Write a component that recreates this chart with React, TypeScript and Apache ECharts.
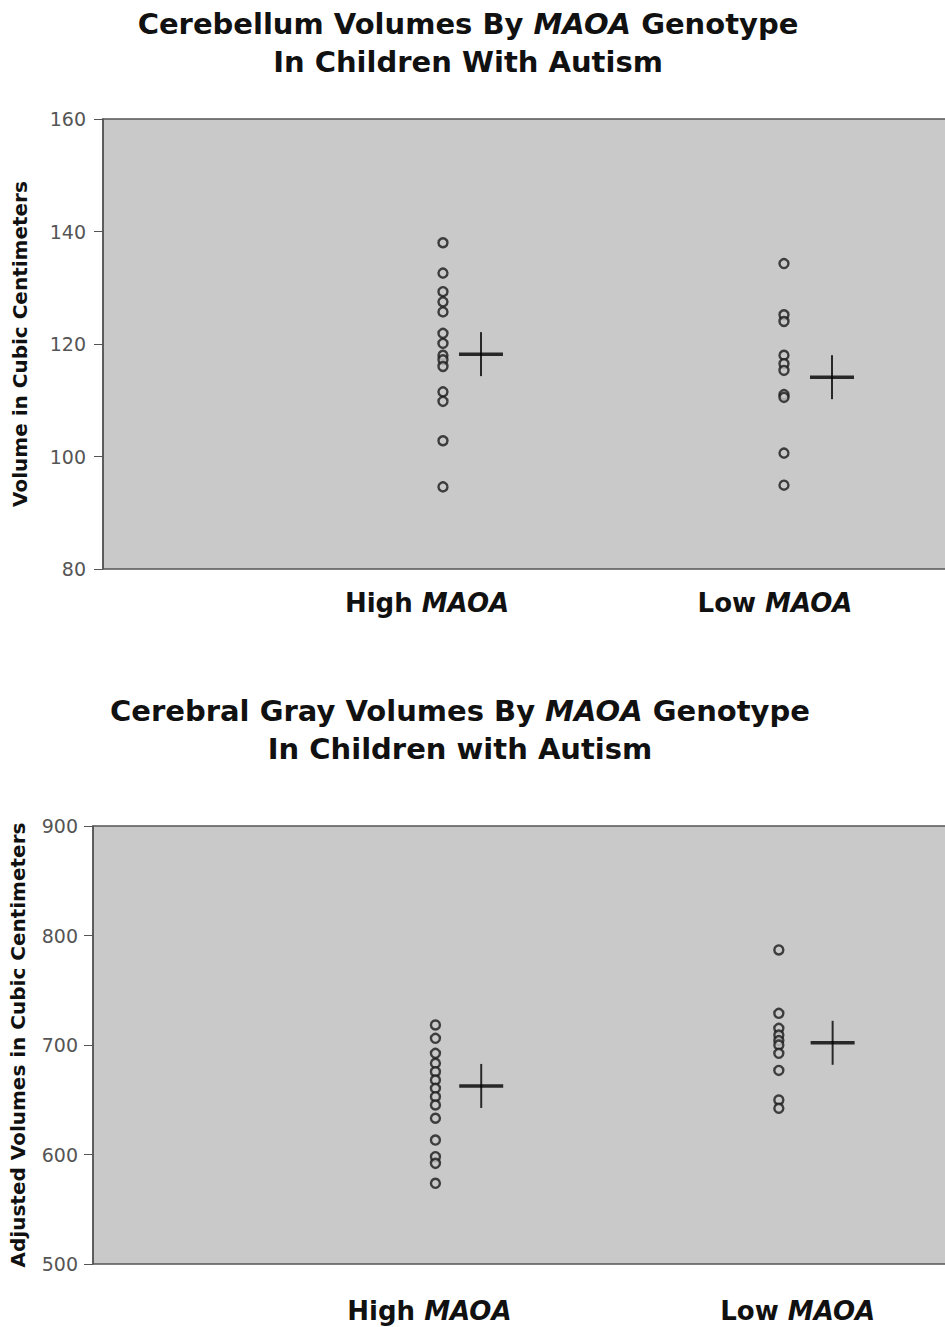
import React, { useEffect, useRef } from "react";
import * as echarts from "echarts";

// ---- Data ----
const groupNames = ["High", "Low"];
const geneName = "MAOA";

// Cerebellum volumes (cc)
const cerebHigh = [138.0, 132.6, 129.3, 127.5, 125.7, 121.9, 120.1, 118.0, 117.2, 116.0, 111.5, 109.8, 102.8, 94.6];
const cerebLow = [134.3, 125.2, 124.0, 118.0, 116.5, 115.3, 111.0, 110.5, 100.6, 94.9];
const cerebMeans = [118.2, 114.1];
const cerebTicks = [80, 100, 120, 140, 160];

// Cerebral gray volumes (cc, adjusted)
const grayHigh = [718.3, 706.1, 692.4, 683.3, 675.6, 668.0, 660.4, 652.8, 645.2, 633.1, 613.2, 598.0, 591.9, 573.7];
const grayLow = [786.8, 728.9, 715.2, 709.1, 704.0, 700.0, 692.4, 676.8, 649.8, 642.2];
const grayMeans = [662.6, 702.0];
const grayTicks = [500, 600, 700, 800, 900];

// ---- Layout (x positions in a 0..100 horizontal space) ----
const topPos = { dots: [39.44, 79.0], means: [43.85, 84.57], labels: [37.59, 77.96] };
const botPos = { dots: [39.27, 78.65], means: [44.52, 84.82], labels: [38.58, 80.82] };

const FONT = "DejaVu Sans";
const PLOT_BG = "#c9c9c9";

export default function App() {
  const ref = useRef<HTMLDivElement>(null);

  useEffect(() => {
    if (!ref.current) return;
    const chart = echarts.init(ref.current, null, { renderer: "svg" });

    const dotStyle = { color: PLOT_BG, borderColor: "#1a1a1a", borderWidth: 2.4 };
    const titleStyle = {
      fontFamily: FONT,
      fontSize: 29,
      fontWeight: "bold",
      color: "#111",
      lineHeight: 38,
      rich: {
        n: { fontFamily: FONT, fontSize: 29, fontWeight: "bold", color: "#111", lineHeight: 38 },
        i: { fontFamily: FONT, fontSize: 29, fontWeight: "bold", fontStyle: "italic", color: "#111", lineHeight: 38 },
      },
    };

    const labelFormatter = (pos: number[]) => (v: number) => {
      const idx = pos.findIndex((p) => Math.abs(p - v) < 1e-6);
      if (idx < 0) return "";
      return `{n|${groupNames[idx]} }{i|${geneName}}`;
    };
    const xLabelRich = {
      n: { fontFamily: FONT, fontSize: 26, fontWeight: "bold", color: "#111" },
      i: { fontFamily: FONT, fontSize: 26, fontWeight: "bold", fontStyle: "italic", color: "#111" },
    };

    const yAxisCommon = (min: number, max: number, interval: number, name: string, gap: number, margin: number) => ({
      type: "value",
      min,
      max,
      interval,
      name,
      nameLocation: "middle",
      nameRotate: 90,
      nameGap: gap,
      nameTextStyle: { fontFamily: FONT, fontSize: 20, fontWeight: "bold", color: "#111" },
      axisLine: { show: true, lineStyle: { color: "#555", width: 1.5 } },
      axisTick: { show: true, length: 9, lineStyle: { color: "#555", width: 1 } },
      axisLabel: { fontFamily: FONT, fontSize: 19, color: "#555", margin: margin },
      splitLine: { show: false },
    });

    const xAxisCommon = (grid: number, pos: number[], margin: number) => ({
      type: "value",
      gridIndex: grid,
      min: 0,
      max: 100,
      axisLine: { show: false },
      axisTick: { show: false },
      splitLine: { show: false },
      axisLabel: {
        show: true,
        customValues: pos,
        formatter: labelFormatter(pos),
        margin,
        rich: xLabelRich,
      },
    });

    const crossSeries = (xi: number, means: number[], pos: number[]) => [
      {
        type: "scatter",
        xAxisIndex: xi,
        yAxisIndex: xi,
        symbol: "rect",
        symbolSize: [44, 3.5],
        itemStyle: { color: "#000" },
        data: means.map((m, k) => [pos[k], m]),
        z: 5,
      },
      {
        type: "scatter",
        xAxisIndex: xi,
        yAxisIndex: xi,
        symbol: "rect",
        symbolSize: [2, 44],
        itemStyle: { color: "#000" },
        data: means.map((m, k) => [pos[k], m]),
        z: 5,
      },
    ];

    const dotSeries = (xi: number, vals: number[], x: number) => ({
      type: "scatter",
      xAxisIndex: xi,
      yAxisIndex: xi,
      symbol: "circle",
      symbolSize: 9,
      itemStyle: dotStyle,
      data: vals.map((v) => [x, v]),
      z: 4,
    });

    chart.setOption({
      animation: false,
      backgroundColor: "#ffffff",
      title: [
        {
          text: `{n|Cerebellum Volumes By }{i|${geneName}}{n| Genotype}\n{n|In Children With Autism}`,
          left: 468,
          top: 5,
          textAlign: "center",
          padding: 0,
          textStyle: titleStyle,
        },
        {
          text: `{n|Cerebral Gray Volumes By }{i|${geneName}}{n| Genotype}\n{n|In Children with Autism}`,
          left: 460,
          top: 692,
          textAlign: "center",
          padding: 0,
          textStyle: titleStyle,
        },
      ],
      grid: [
        {
          left: 103,
          top: 119,
          right: 0,
          height: 450,
          show: true,
          backgroundColor: PLOT_BG,
          borderColor: "#555",
          borderWidth: 1.5,
        },
        {
          left: 89,
          top: 826,
          right: 0,
          height: 438,
          show: true,
          backgroundColor: PLOT_BG,
          borderColor: "#555",
          borderWidth: 1.5,
        },
      ],
      xAxis: [xAxisCommon(0, topPos.labels, 21), xAxisCommon(1, botPos.labels, 34)],
      yAxis: [
        { ...yAxisCommon(cerebTicks[0], cerebTicks[cerebTicks.length - 1], cerebTicks[1] - cerebTicks[0], "Volume in Cubic Centimeters", 73, 17), gridIndex: 0 },
        { ...yAxisCommon(grayTicks[0], grayTicks[grayTicks.length - 1], grayTicks[1] - grayTicks[0], "Adjusted Volumes in Cubic Centimeters", 65, 15), gridIndex: 1 },
      ],
      series: [
        dotSeries(0, cerebHigh, topPos.dots[0]),
        dotSeries(0, cerebLow, topPos.dots[1]),
        ...crossSeries(0, cerebMeans, topPos.means),
        dotSeries(1, grayHigh, botPos.dots[0]),
        dotSeries(1, grayLow, botPos.dots[1]),
        ...crossSeries(1, grayMeans, botPos.means),
      ],
    });

    return () => chart.dispose();
  }, []);

  return (
    <div style={{ position: "absolute", left: 0, top: 0, width: 945, height: 1327, overflow: "hidden" }}>
      <div ref={ref} style={{ width: 965, height: 1327 }} />
    </div>
  );
}
